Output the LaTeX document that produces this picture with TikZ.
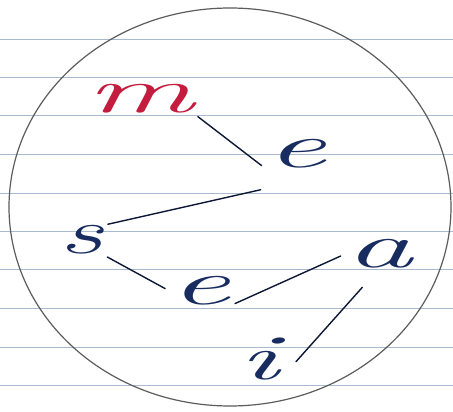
\documentclass[tikz,border=0pt]{standalone}
\usepackage{tikz}
\usepackage{graphicx}
\usetikzlibrary{calc}
\definecolor{InkRed}{RGB}{196,28,62}
\definecolor{InkBlue}{RGB}{24,44,96}
\definecolor{RuleBlue}{RGB}{170,186,206}
\definecolor{Pencil}{RGB}{92,92,92}
\newcommand{\handletter}[2][2.1]{\scalebox{#1}[1]{#2}}
\tikzset{
  letter/.style={inner sep=0pt,text=InkBlue,font=\fontsize{64}{64}\selectfont\itshape},
  stroke/.style={line width=1.4pt,InkBlue!55!black,line cap=round,shorten <=5pt,shorten >=5pt},
  rule/.style={line width=0.9pt,RuleBlue},
  rim/.style={line width=1.2pt,Pencil},
}
\begin{document}
\begin{tikzpicture}[x=1pt,y=-1pt]
  \useasboundingbox (0,0) rectangle (453,412);
  \fill[white] (0,0) rectangle (453,412);
  \foreach \y in {39,77,115,154,193,231,269,308,347,385}
    \draw[rule] (0,\y) -- (453,\y);
  \draw[rim] (230,207) ellipse [x radius=221, y radius=199];
  \node[letter,text=InkRed] (m) at (140,99) {\handletter{m}};
  \node[letter] (e1) at (296,154) {\handletter{e}};
  \node[letter] (s) at (81,240) {\handletter[1.7]{s}};
  \node[letter] (e2) at (200,291) {\handletter{e}};
  \node[letter] (a) at (379,254) {\handletter{a}};
  \node[letter] (i) at (259,359) {\handletter{i}};
  \draw[stroke] (m.south east) -- (e1.south west);
  \draw[stroke] ([yshift=-20pt]e1.south west) -- (s.north east);
  \draw[stroke] (s.south east) -- (e2.west);
  \draw[stroke] (e2.south east) -- (a.west);
  \draw[stroke,shorten <=25pt,shorten >=25pt] (a.south) -- (i.south east);
\end{tikzpicture}
\end{document}
